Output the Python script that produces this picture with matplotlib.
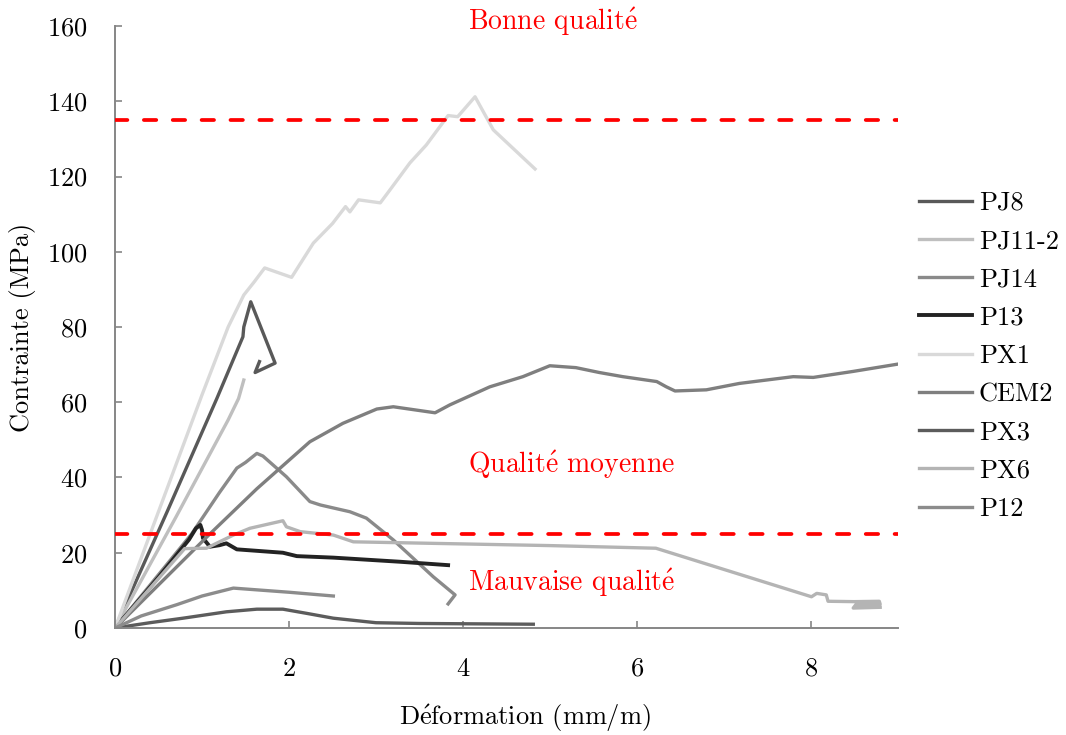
import matplotlib
matplotlib.use("Agg")
import matplotlib.pyplot as plt

plt.rcParams['font.family'] = ['cmr10', 'DejaVu Serif']
plt.rcParams['mathtext.fontset'] = 'cm'
plt.rcParams['axes.formatter.use_mathtext'] = True

# stress-strain curves (strain mm/m, stress MPa)
pj8_x = [0, 0.6, 1.17, 1.47, 1.48, 1.56, 1.84, 1.61, 1.66]
pj8_y = [0, 31, 61, 77.4, 80, 86.7, 70.4, 67.9, 70.8]

pj11_x = [0, 0.7, 1.3, 1.42, 1.48]
pj11_y = [0, 29.5, 55.3, 61, 65.9]

pj14_x = [0, 0.88, 1.2, 1.4, 1.5, 1.63, 1.7, 1.97, 2.24, 2.36, 2.51, 2.70, 2.89, 3.20, 3.66, 3.91, 3.83]
pj14_y = [0, 25, 36, 42.5, 44, 46.4, 45.7, 40.2, 33.6, 32.7, 31.9, 30.9, 29.2, 23.4, 13.6, 8.8, 6.4]

p13_x = [0, 0.5, 0.85, 0.93, 0.98, 1.0, 1.01, 1.09, 1.2, 1.28, 1.40, 1.93, 2.09, 2.51, 3.28, 3.83]
p13_y = [0, 13.5, 23.5, 26.5, 27.4, 26, 23.9, 21.6, 22, 22.5, 20.9, 20.0, 19.1, 18.7, 17.6, 16.7]

px1_x = [0, 0.5, 1.0, 1.3, 1.48, 1.6, 1.72, 2.03, 2.28, 2.5, 2.65, 2.70, 2.80, 3.05, 3.16,
         3.39, 3.58, 3.83, 3.94, 4.14, 4.35, 4.83]
px1_y = [0, 31, 62, 80, 88.5, 92, 95.7, 93.2, 102.3, 107.5, 112, 110.6, 113.8, 113, 116.4,
         123.6, 128.4, 136.2, 135.9, 141.2, 132.4, 122]

cem2_x = [0, 1.09, 1.63, 2.24, 2.62, 3.01, 3.20, 3.68, 3.85, 4.31, 4.69, 5.0, 5.3, 5.57, 5.84,
          6.23, 6.34, 6.44, 6.80, 7.18, 7.80, 8.03, 8.49, 9.02]
cem2_y = [0, 25, 37, 49.5, 54.4, 58.2, 58.8, 57.2, 59.3, 64.1, 66.8, 69.7, 69.2, 67.9, 66.8,
          65.5, 64.1, 63.0, 63.3, 65, 66.8, 66.6, 68.2, 70.2]

px3_x = [0, 0.4, 0.78, 1.28, 1.63, 1.93, 2.2, 2.51, 3.0, 3.5, 4.81]
px3_y = [0, 1.4, 2.6, 4.3, 5.0, 5.0, 3.9, 2.6, 1.4, 1.2, 1.0]

px6_x = [0, 0.8, 1.05, 1.36, 1.55, 1.93, 1.97, 2.13, 2.51, 2.74, 5.0, 6.22, 8.01, 8.07, 8.18,
         8.20, 8.5, 8.79, 8.80, 8.52, 8.49, 8.80]
px6_y = [0, 21.1, 21.2, 24.7, 26.5, 28.5, 26.9, 25.6, 24.7, 22.9, 21.9, 21.2, 8.3, 9.2, 8.8,
         7.1, 7.0, 7.1, 6.3, 6.2, 5.3, 5.5]

p12_x = [0, 0.3, 0.71, 1.0, 1.36, 2.0, 2.51]
p12_y = [0, 3.2, 6.2, 8.5, 10.6, 9.5, 8.5]

series = [
    ('PJ8', pj8_x, pj8_y, '#595959'),
    ('PJ11-2', pj11_x, pj11_y, '#bfbfbf'),
    ('PJ14', pj14_x, pj14_y, '#8a8a8a'),
    ('P13', p13_x, p13_y, '#232323'),
    ('PX1', px1_x, px1_y, '#d9d9d9'),
    ('CEM2', cem2_x, cem2_y, '#7f7f7f'),
    ('PX3', px3_x, px3_y, '#5c5c5c'),
    ('PX6', px6_x, px6_y, '#b4b4b4'),
    ('P12', p12_x, p12_y, '#8c8c8c'),
]

# quality thresholds
seuil_haut = 135
seuil_bas = 25

E_ACUTE = r'$\acute{\rm e}$'
FS = 19
FS_ZONE = 20

fig = plt.figure(figsize=(10.66, 7.35), dpi=100)
ax = fig.add_axes([0.108, 0.1456, 0.734, 0.819])

for name, x, y, color in series:
    lw = 2.8 if name == 'P13' else 2.4
    ax.plot(x, y, color=color, linewidth=lw, label=name, solid_joinstyle='round')

for s in (seuil_haut, seuil_bas):
    ax.axhline(s, color='red', linewidth=2.7, linestyle=(0, (3.3, 4.4)), dash_capstyle='round', zorder=5)

ax.text(4.06, 161.3, 'Bonne qualit' + E_ACUTE, color='red', fontsize=FS_ZONE, va='center', ha='left', clip_on=False)
ax.text(4.06, 43.5, 'Qualit' + E_ACUTE + ' moyenne', color='red', fontsize=FS_ZONE, va='center', ha='left')
ax.text(4.06, 12.0, 'Mauvaise qualit' + E_ACUTE, color='red', fontsize=FS_ZONE, va='center', ha='left')

ax.set_xlim(0, 9)
ax.set_ylim(0, 160)
ax.set_xticks([0, 2, 4, 6, 8])
ax.set_yticks(range(0, 161, 20))
ax.spines['top'].set_visible(False)
ax.spines['right'].set_visible(False)
for sp in ('left', 'bottom'):
    ax.spines[sp].set_color('#868686')
    ax.spines[sp].set_linewidth(1.4)
ax.tick_params(direction='in', length=5, width=1.2, color='#868686', labelsize=FS)
ax.tick_params(axis='y', pad=20)
ax.tick_params(axis='x', pad=21)

ax.set_xlabel('D' + E_ACUTE + 'formation (mm/m)', fontsize=FS, va='center')
ax.xaxis.set_label_coords(0.524, -0.1495)
ax.set_ylabel('Contrainte (MPa)', fontsize=FS, va='center')
ax.yaxis.set_label_coords(-0.119, 0.5)

ax.legend(loc='upper left', bbox_to_anchor=(0.862, 0.74), bbox_transform=fig.transFigure,
          frameon=False, fontsize=FS, handlelength=2.0, handletextpad=0.27, labelspacing=0.55,
          borderaxespad=0, borderpad=0)

fig.savefig('out.png', dpi=100)
